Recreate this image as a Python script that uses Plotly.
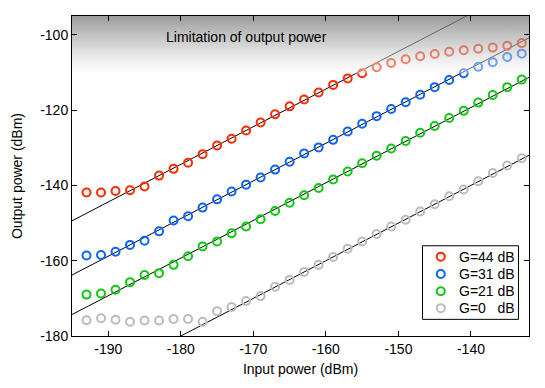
import plotly.graph_objects as go

# ---- data ----
input_power = [-193, -191, -189, -187, -185, -183, -181, -179, -177, -175,
               -173, -171, -169, -167, -165, -163, -161, -159, -157, -155,
               -153, -151, -149, -147, -145, -143, -141, -139, -137, -135, -133]

out_g44 = [-141.9, -141.9, -141.5, -141.3, -140.3, -137.4, -135.6, -134.0, -131.7, -129.4,
           -127.6, -125.4, -123.3, -121.1, -119.0, -117.2, -115.3, -113.3, -111.6, -110.2,
           -108.6, -107.5, -106.5, -105.7, -105.1, -104.5, -104.1, -103.7, -103.4, -102.9, -102.2]
out_g31 = [-158.6, -158.5, -157.6, -155.8, -154.7, -152.2, -149.3, -148.2, -145.9, -143.7,
           -141.6, -139.8, -137.9, -135.8, -133.7, -131.5, -129.9, -127.9, -125.7, -123.6,
           -121.6, -119.7, -117.9, -115.9, -113.9, -112.0, -110.2, -108.5, -107.3, -105.9, -105.0]
out_g21 = [-169.0, -168.7, -167.7, -165.7, -163.8, -163.3, -161.1, -158.8, -156.2, -154.9,
           -152.7, -150.9, -149.0, -146.8, -144.6, -142.6, -140.7, -138.4, -136.3, -134.1,
           -132.1, -130.2, -128.2, -126.0, -124.2, -122.1, -120.2, -118.0, -116.0, -113.9, -111.9]
out_g0 = [-175.8, -175.3, -175.7, -176.2, -175.9, -175.9, -175.5, -175.5, -176.2, -173.4,
          -172.3, -170.7, -169.4, -166.9, -165.1, -163.0, -161.1, -159.0, -156.8, -154.9,
          -152.9, -150.9, -149.1, -146.9, -145.0, -142.9, -141.1, -138.9, -136.7, -134.7, -132.8]

series_names = ["G=44 dB", "G=31 dB", "G=21 dB", "G=0\u00a0\u00a0\u00a0dB"]
series_values = [out_g44, out_g31, out_g21, out_g0]
series_colors = ["#ff2a00", "#0a64ff", "#10c810", "#bbbbbb"]
fit_offsets = [45.6, 31.2, 20.7, 0.0]   # linear fits: output = input + offset

x_ticks = [-190, -180, -170, -160, -150, -140]
x_tick_labels = ["-190", "-180", "-170", "-160", "-150", "-140"]
y_ticks = [-180, -160, -140, -120, -100]
y_tick_labels = ["-180", "-160", "-140", "-120", "-100"]

x_range = [-195, -132]
y_range = [-180, -95]
limit_level = -110.3
limit_text = "Limitation of output power"

FONT = "Liberation Sans, Arial, Helvetica, sans-serif"

fig = go.Figure()

# fit lines
for off in fit_offsets:
    xs = [x_range[0], x_range[1]]
    fig.add_trace(go.Scatter(
        x=xs, y=[v + off for v in xs], mode="lines",
        line=dict(color="black", width=1), showlegend=False, hoverinfo="skip"))

# measured points
for name, vals, col in zip(series_names, series_values, series_colors):
    fig.add_trace(go.Scatter(
        x=input_power, y=vals, mode="markers", name=name, showlegend=False,
        marker=dict(symbol="circle-open", size=8, color=col, line=dict(width=2, color=col))))

# shaded "limitation" region (semi-transparent gradient overlay)
fig.add_trace(go.Scatter(
    x=[x_range[0], x_range[1], x_range[1], x_range[0], x_range[0]],
    y=[limit_level, limit_level, y_range[1], y_range[1], limit_level],
    mode="lines", line=dict(width=0), fill="toself",
    fillgradient=dict(type="vertical", colorscale=[
        [0.0, "rgba(255,255,255,0.4)"],
        [0.5, "rgba(180,180,180,0.58)"],
        [1.0, "rgba(120,120,120,0.75)"]]),
    showlegend=False, hoverinfo="skip"))

fig.add_annotation(x=-170.9, y=-100.5, text=limit_text, showarrow=False,
                   font=dict(size=14, color="black", family=FONT))

# ---- custom legend (box, symbols, labels) in plot-fraction coordinates ----
leg_left, leg_right, leg_top, leg_bottom = 0.767, 0.977, 0.282, 0.052
leg_sym_x, leg_text_x = 0.807, 0.842
leg_rows = [0.248, 0.194, 0.140, 0.087]

fig.add_shape(type="rect", xref="paper", yref="paper",
              x0=leg_left, x1=leg_right, y0=leg_bottom, y1=leg_top,
              line=dict(color="black", width=1), fillcolor="white", layer="below")
fig.add_trace(go.Scatter(
    x=[leg_sym_x] * len(leg_rows), y=leg_rows, xaxis="x2", yaxis="y2",
    mode="markers", showlegend=False, hoverinfo="skip",
    marker=dict(symbol="circle-open", size=8, color=series_colors,
                line=dict(width=2, color=series_colors))))
for name, yy in zip(series_names, leg_rows):
    fig.add_annotation(xref="paper", yref="paper", x=leg_text_x, y=yy,
                       xanchor="left", yanchor="middle", text=name, showarrow=False,
                       font=dict(size=14, color="black", family=FONT))

axis_common = dict(showline=True, linecolor="black", linewidth=1, mirror="ticks",
                   ticks="inside", ticklen=5, tickcolor="black", showgrid=False,
                   zeroline=False, tickfont=dict(size=14, color="black", family=FONT))

fig.update_layout(
    width=545, height=388,
    margin=dict(l=72, r=16, t=16, b=52),
    paper_bgcolor="white", plot_bgcolor="white",
    font=dict(family=FONT, size=14, color="black"),
    xaxis=dict(range=x_range, tickvals=x_ticks, ticktext=x_tick_labels,
               title=dict(text="Input power (dBm)", font=dict(size=14), standoff=8),
               **axis_common),
    yaxis=dict(range=y_range, tickvals=y_ticks, ticktext=y_tick_labels,
               title=dict(text="Output power (dBm)", font=dict(size=14), standoff=14),
               **axis_common),
    xaxis2=dict(overlaying="x", range=[0, 1], visible=False, fixedrange=True),
    yaxis2=dict(overlaying="y", range=[0, 1], visible=False, fixedrange=True),
    showlegend=False,
)

fig.write_html("out.html", config={"displayModeBar": False},
               post_script="document.body.style.margin='0';")
